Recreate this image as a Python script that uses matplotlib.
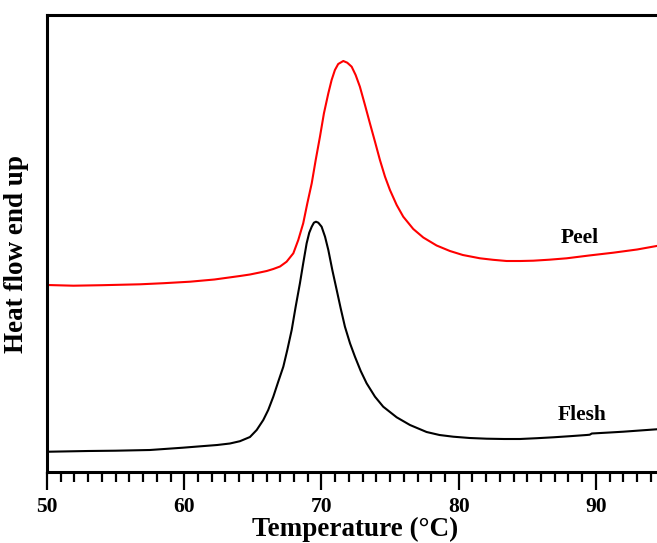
import matplotlib
matplotlib.use("Agg")
import matplotlib.pyplot as plt
from matplotlib.ticker import MultipleLocator

# Temperature (°C) and heat flow (arbitrary units, endotherm up)
flesh_T = [50.2, 53.0, 55.0, 57.5, 59.9, 61.0, 62.4, 63.33, 64.06, 64.79, 65.28,
           65.76, 66.12, 66.49, 66.85, 67.22, 67.51, 67.83, 68.12, 68.43, 68.67,
           68.92, 69.11, 69.29, 69.45, 69.60, 69.77, 70.01, 70.26, 70.50, 70.79,
           71.11, 71.40, 71.71, 72.08, 72.44, 72.86, 73.29, 73.90, 74.50, 75.48,
           76.45, 77.66, 78.6, 79.6, 80.8, 82.04, 83.3, 84.46, 85.7, 86.89, 88.1,
           89.32, 89.55, 89.7, 91.0, 91.99, 93.2, 94.42]
flesh_H = [20.3, 21.0, 21.3, 22.0, 24.3, 25.5, 27.0, 28.5, 30.8, 35.0, 42.0,
           52.0, 62.0, 75.3, 90.3, 105.3, 122.0, 142.0, 165.3, 188.7, 208.7,
           228.7, 239.3, 245.3, 249.3, 250.3, 249.3, 245.3, 235.3, 222.0, 202.0,
           182.0, 163.7, 145.3, 128.7, 115.3, 101.0, 88.7, 75.3, 65.3, 54.7,
           47.0, 40.0, 37.0, 35.3, 34.0, 33.3, 33.0, 33.0, 33.8, 34.7, 35.8,
           37.0, 37.3, 38.5, 39.5, 40.3, 41.5, 42.7]

peel_T = [50.0, 51.92, 54.0, 56.78, 58.5, 60.42, 62.2, 64.06, 64.79, 65.5, 66.01,
          66.49, 66.98, 67.46, 67.95, 68.31, 68.67, 68.97, 69.29, 69.58, 69.89,
          70.18, 70.50, 70.74, 70.98, 71.22, 71.59, 71.88, 72.20, 72.49, 72.80,
          73.17, 73.53, 73.90, 74.26, 74.63, 74.99, 75.48, 75.96, 76.69, 77.42,
          78.39, 79.36, 80.3, 81.55, 82.5, 83.49, 84.5, 85.43, 86.6, 87.87, 89.5,
          91.26, 93.0, 94.42]
peel_H = [187.0, 186.3, 186.8, 187.7, 188.8, 190.3, 192.5, 196.0, 197.5, 199.5, 201.0,
          203.0, 205.5, 210.3, 218.7, 232.0, 248.7, 268.7, 288.7, 312.0, 335.3,
          358.7, 378.7, 392.0, 402.0, 408.0, 411.0, 409.3, 405.3, 397.0, 385.3,
          367.0, 348.7, 330.3, 312.0, 295.3, 282.0, 267.0, 255.3, 243.0, 234.5,
          226.5, 221.0, 217.0, 213.7, 212.2, 211.0, 211.0, 211.3, 212.3, 213.7, 216.5,
          219.3, 222.5, 226.0]

x_ticks = [50, 60, 70, 80, 90]

plt.rcParams['font.family'] = ['Liberation Serif', 'DejaVu Serif']
plt.rcParams['font.weight'] = 'bold'

fig = plt.figure(figsize=(6.57, 5.43), dpi=100)
ax = fig.add_axes([47/657, 1 - 472/543, 1 - 47/657 + 0.01, (472 - 15)/543])

ax.plot(flesh_T, flesh_H, color='black', lw=1.5)
ax.plot(peel_T, peel_H, color='#ff0000', lw=1.5)

ax.set_xlim(50, 94.45 + 0.01 * 657 / 13.725)
ax.set_ylim(0, 457)

ax.set_xticks(x_ticks)
ax.set_xticklabels([str(t) for t in x_ticks])
ax.xaxis.set_minor_locator(MultipleLocator(1))
ax.set_yticks([])
ax.tick_params(axis='x', which='major', direction='out', length=13, width=1.6,
               labelsize=15.5, pad=5)
ax.tick_params(axis='x', which='minor', direction='out', length=7, width=1.6)

for s in ['left', 'bottom', 'top']:
    ax.spines[s].set_linewidth(2.2)
ax.spines['right'].set_visible(False)

ax.set_xlabel('Temperature (°C)', fontsize=19.5, fontweight='bold', labelpad=0)
ax.set_ylabel('Heat flow end up', fontsize=19.5, fontweight='bold')
ax.yaxis.set_label_coords(-(47 - 29) / 617, (472 - 254) / 457)

ax.text(88.83, 234.3, 'Peel', fontsize=15.5, fontweight='bold', ha='center', va='center')
ax.text(89.0, 57, 'Flesh', fontsize=15.5, fontweight='bold', ha='center', va='center')

fig.savefig('out.png', dpi=100)
